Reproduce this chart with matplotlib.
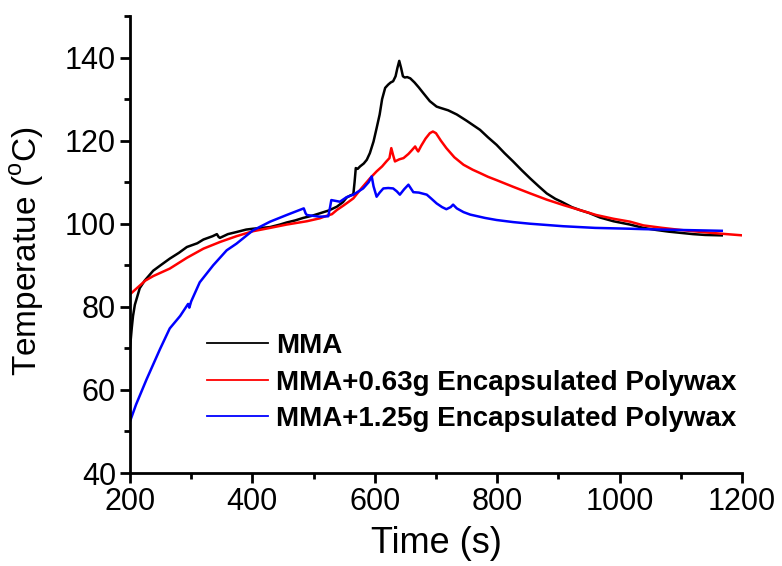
import matplotlib
matplotlib.use("Agg")
import matplotlib.pyplot as plt
from matplotlib.ticker import MultipleLocator

plt.rcParams['font.family'] = ['Liberation Sans', 'DejaVu Sans']

# Bulk temperature during polymerisation
mma_t = [200, 203, 205, 208, 211, 216, 224, 238, 250, 265, 280, 293, 310, 320, 335,
         342, 345, 347, 360, 374, 390, 401, 415, 429, 445, 456, 470, 483, 497, 510,
         525, 538, 548, 554, 560, 565, 567, 569, 572, 576, 582, 587, 592, 598, 603,
         608, 612, 617, 622, 626, 630, 634, 637, 640, 643, 646, 649, 653, 658, 665,
         672, 679, 690, 701, 707, 720, 734, 750, 772, 785, 799, 812, 826, 840, 854,
         868, 881, 895, 905, 922, 935, 950, 968, 990, 1017, 1039, 1060, 1080, 1100,
         1120, 1140, 1167]
mma_T = [70.0, 75.0, 77.8, 80.5, 82.0, 84.5, 86.3, 88.7, 90.0, 91.6, 93.0, 94.4, 95.3,
         96.2, 97.0, 97.5, 96.8, 96.6, 97.5, 98.0, 98.6, 98.8, 99.0, 99.2, 99.8, 100.3,
         100.8, 101.4, 101.9, 102.5, 103.2, 104.1, 105.2, 106.3, 106.8, 107.1, 110.0,
         113.4, 113.2, 113.8, 114.5, 115.4, 117.0, 119.8, 123.0, 126.3, 130.0, 132.7,
         133.5, 134.0, 134.3, 135.5, 137.5, 139.2, 137.5, 135.5, 135.2, 135.3, 135.0,
         134.0, 132.8, 131.5, 129.5, 128.2, 127.9, 127.3, 126.3, 124.8, 122.6, 120.8,
         119.0, 117.0, 115.0, 112.9, 110.9, 109.0, 107.3, 106.0, 105.3, 104.0, 103.3,
         102.6, 101.5, 100.6, 99.8, 99.0, 98.5, 98.1, 97.8, 97.5, 97.3, 97.2]

wax063_t = [200, 225, 238, 265, 293, 320, 347, 374, 401, 429, 456, 489, 510, 521, 530,
            538, 550, 565, 578, 592, 603, 612, 619, 624, 627, 630, 633, 640, 647, 655,
            660, 666, 669, 671, 676, 683, 690, 695, 700, 708, 717, 730, 745, 760, 772,
            785, 799, 826, 854, 881, 908, 935, 962, 990, 1017, 1039, 1070, 1100, 1120,
            1150, 1175, 1201]
wax063_T = [83.0, 86.3, 87.4, 89.2, 91.8, 94.0, 95.6, 97.0, 98.2, 99.0, 99.8, 100.6,
            101.3, 101.9, 102.3, 103.3, 104.5, 106.1, 108.5, 110.9, 112.6, 113.8, 115.0,
            115.8, 118.2, 116.5, 115.0, 115.5, 115.8, 116.8, 117.6, 118.6, 117.8, 117.4,
            118.8, 120.5, 121.8, 122.2, 121.8, 120.0, 118.2, 116.0, 114.2, 113.0, 112.2,
            111.3, 110.5, 108.9, 107.3, 105.8, 104.5, 103.3, 102.1, 101.2, 100.5, 99.6,
            99.0, 98.5, 98.2, 97.8, 97.5, 97.2]

wax125_t = [200, 210, 227, 249, 265, 282, 295, 297, 300, 314, 336, 358, 374, 401, 429,
            456, 484, 487, 489, 510, 524, 527, 529, 536, 543, 554, 565, 581, 590, 595,
            598, 603, 608, 614, 622, 630, 636, 641, 648, 655, 663, 672, 685, 692, 701,
            710, 717, 724, 728, 734, 745, 756, 780, 799, 826, 854, 881, 908, 960, 1017,
            1039, 1100, 1167]
wax125_T = [52.4, 56.5, 62.5, 69.8, 74.8, 77.8, 80.7, 79.8, 81.3, 85.9, 90.0, 93.6, 95.2,
            98.4, 100.5, 102.1, 103.7, 102.5, 102.1, 101.7, 101.8, 104.0, 105.7, 105.5,
            105.3, 106.4, 107.0, 108.5, 110.0, 111.4, 109.0, 106.5, 107.5, 108.5, 108.6,
            108.5, 107.8, 107.0, 108.3, 109.4, 107.6, 107.5, 107.0, 106.1, 104.9, 104.0,
            103.5, 104.0, 104.6, 103.7, 102.8, 102.2, 101.4, 100.9, 100.4, 100.0, 99.7,
            99.4, 99.0, 98.8, 98.7, 98.5, 98.3]

labels = ["MMA", "MMA+0.63g Encapsulated Polywax", "MMA+1.25g Encapsulated Polywax"]

fig = plt.figure(figsize=(7.82, 5.66), dpi=100)
ax = fig.add_axes([0.1662, 0.1643, 0.7826, 0.8074])

ax.plot(mma_t, mma_T, color='black', lw=1.8, label=labels[0])
ax.plot(wax063_t, wax063_T, color='#ff0000', lw=1.8, label=labels[1])
ax.plot(wax125_t, wax125_T, color='#0000ff', lw=1.8, label=labels[2])

ax.set_xlim(200, 1200)
ax.set_ylim(40, 150)
ax.xaxis.set_major_locator(MultipleLocator(200))
ax.xaxis.set_minor_locator(MultipleLocator(100))
ax.yaxis.set_major_locator(MultipleLocator(20))
ax.yaxis.set_minor_locator(MultipleLocator(10))

for side in ('top', 'right'):
    ax.spines[side].set_visible(False)
for side in ('left', 'bottom'):
    ax.spines[side].set_linewidth(2.0)

ax.tick_params(which='major', direction='out', length=7, width=2.0, labelsize=22, pad=3)
ax.tick_params(which='minor', direction='out', length=4.5, width=2.0)

ax.set_xlabel("Time (s)", fontsize=26)
ax.set_ylabel("Temperatue ($^{\\mathregular{o}}$C)", fontsize=24)
ax.xaxis.set_label_coords(0.5, -0.117)
ax.yaxis.set_label_coords(-0.137, 0.485)

leg = ax.legend(loc='upper left', bbox_to_anchor=(207 / 782, 1 - 333 / 566),
                bbox_transform=fig.transFigure, frameon=False,
                prop={'weight': 'bold', 'size': 20}, handlelength=2.2,
                handletextpad=0.3, labelspacing=0.38, borderpad=0, borderaxespad=0)
for line in leg.get_lines():
    line.set_linewidth(1.3)

fig.savefig("out.png", dpi=100)
